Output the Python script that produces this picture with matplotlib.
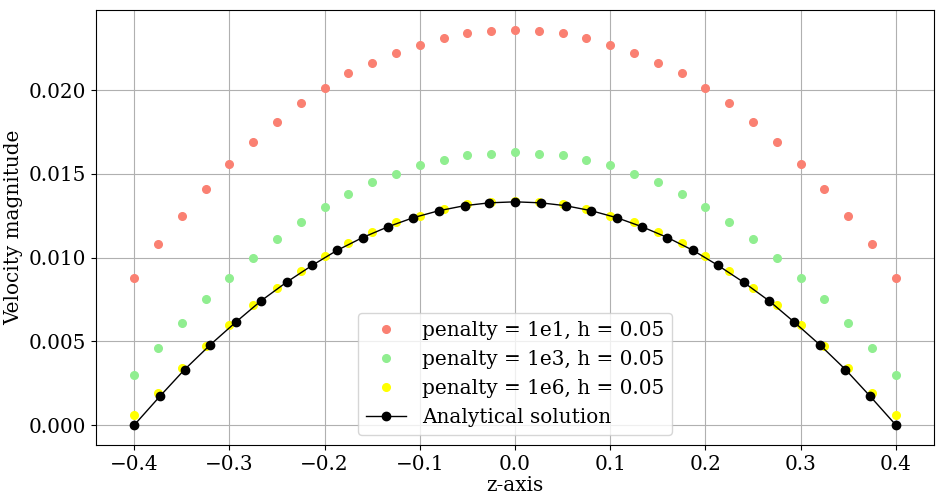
import matplotlib
matplotlib.use('Agg')
import matplotlib.pyplot as plt
import numpy as np

plt.rcParams['font.family'] = 'DejaVu Serif'
plt.rcParams['font.size'] = 14.4

# numerical solutions, h = 0.05 (left half, mirrored)
z_half = [-0.4, -0.375, -0.35, -0.325, -0.3, -0.275, -0.25, -0.225, -0.2, -0.175,
          -0.15, -0.125, -0.1, -0.075, -0.05, -0.025, 0.0]
u_1e1_half = [0.0088, 0.0108, 0.0125, 0.0141, 0.0156, 0.0169, 0.0181, 0.0192, 0.0201, 0.0210,
              0.0216, 0.0222, 0.0227, 0.0231, 0.0234, 0.0235, 0.0236]
u_1e3_half = [0.0030, 0.0046, 0.0061, 0.0075, 0.0088, 0.0100, 0.0111, 0.0121, 0.0130, 0.0138,
              0.0145, 0.0150, 0.0155, 0.0158, 0.0161, 0.0162, 0.0163]
u_1e6_half = [0.0006, 0.0019, 0.0034, 0.0047, 0.0060, 0.0072, 0.0082, 0.0092, 0.0101, 0.0109,
              0.0115, 0.0121, 0.0125, 0.0129, 0.0132, 0.0133, 0.0134]

# analytical solution (left half, mirrored)
za_half = [-0.4, -0.373, -0.347, -0.32, -0.293, -0.267, -0.24, -0.213, -0.187, -0.16,
           -0.133, -0.107, -0.08, -0.053, -0.027, 0.0]
ua_half = [0.0, 0.00172, 0.00332, 0.00480, 0.00616, 0.00741, 0.00853, 0.00954, 0.01043, 0.01120,
           0.01185, 0.01238, 0.01280, 0.01310, 0.01327, 0.01333]

def mirror(x, y):
    x = np.array(x); y = np.array(y)
    return np.concatenate([x, -x[-2::-1]]), np.concatenate([y, y[-2::-1]])

z, u1 = mirror(z_half, u_1e1_half)
_, u3 = mirror(z_half, u_1e3_half)
_, u6 = mirror(z_half, u_1e6_half)
za, ua = mirror(za_half, ua_half)

fig = plt.figure(figsize=(9.42, 5.01), dpi=100)
ax = fig.add_axes([0.102, 0.112, 0.8895, 0.868])
ax.plot(z, u1, 'o', color='salmon', ms=5.5, label='penalty = 1e1, h = 0.05')
ax.plot(z, u3, 'o', color='lightgreen', ms=5.5, label='penalty = 1e3, h = 0.05')
ax.plot(z, u6, 'o', color='yellow', ms=5.5, label='penalty = 1e6, h = 0.05')
ax.plot(za, ua, 'o-', color='black', lw=1, ms=6, label='Analytical solution')
ax.grid(True)
ax.set_xlabel('z-axis', labelpad=2)
ax.set_ylabel('Velocity magnitude')
ax.legend(loc='lower center', handletextpad=0.8)
fig.savefig('out.png', dpi=100)
